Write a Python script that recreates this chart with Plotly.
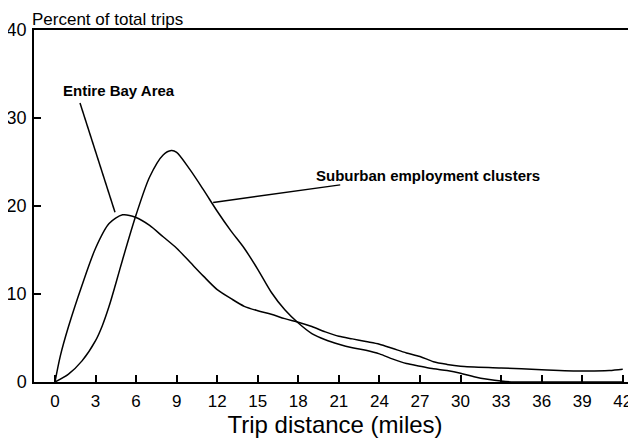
import plotly.graph_objects as go

# Entire Bay Area
bay_x = [0, 0.4, 1, 2, 3, 4, 5, 6, 7, 8, 9, 10, 11, 12, 13, 14, 15, 16, 17, 18, 19, 20, 21, 22, 23, 24, 25, 26, 27, 28, 29, 30, 33, 36, 39, 41, 42]
bay_y = [0, 3, 6.3, 11, 15.2, 18, 19, 18.7, 17.8, 16.5, 15.2, 13.6, 12.0, 10.5, 9.5, 8.6, 8.1, 7.7, 7.2, 6.8, 6.3, 5.7, 5.2, 4.9, 4.6, 4.3, 3.8, 3.3, 2.9, 2.3, 2.0, 1.8, 1.6, 1.4, 1.25, 1.3, 1.45]

# Suburban employment clusters
sub_x = [0, 1, 2, 3, 3.5, 4, 4.5, 5, 6, 7, 8, 8.6, 9, 10, 11, 12, 13, 14, 15, 16, 17, 18, 19, 20, 21, 22, 23, 24, 25, 26, 27, 28, 29, 30, 31, 32, 33, 34, 36, 39, 42]
sub_y = [0, 0.9, 2.4, 4.7, 6.4, 8.6, 11.2, 13.9, 19.0, 23.3, 25.8, 26.3, 26.1, 24.1, 21.8, 19.4, 17.2, 15.2, 12.8, 10.2, 8.2, 6.7, 5.5, 4.8, 4.3, 3.9, 3.6, 3.2, 2.6, 2.1, 1.8, 1.5, 1.3, 1.0, 0.6, 0.3, 0.1, 0, 0, 0, 0]

x_ticks = list(range(0, 43, 3))
y_ticks = [0, 10, 20, 30, 40]

FONT = "Liberation Sans, Arial, sans-serif"

fig = go.Figure()
fig.add_trace(go.Scatter(x=bay_x, y=bay_y, mode="lines", line=dict(color="black", width=1.5, shape="spline", smoothing=0.8), showlegend=False))
fig.add_trace(go.Scatter(x=sub_x, y=sub_y, mode="lines", line=dict(color="black", width=1.5, shape="spline", smoothing=0.8), showlegend=False))

# pointer lines
fig.add_shape(type="line", x0=1.85, y0=31.7, x1=4.44, y1=19.3, line=dict(color="black", width=1.5))
fig.add_shape(type="line", x0=21.1, y0=22.4, x1=11.7, y1=20.4, line=dict(color="black", width=1.5))

fig.add_annotation(x=4.73, y=33.1, text="<b>Entire Bay Area</b>", showarrow=False,
                   font=dict(family=FONT, size=15, color="black"), xanchor="center", yanchor="middle")
fig.add_annotation(x=27.6, y=23.5, text="<b>Suburban employment clusters</b>", showarrow=False,
                   font=dict(family=FONT, size=15, color="black"), xanchor="center", yanchor="middle")

fig.update_xaxes(range=[-1.553, 42.98], tickvals=x_ticks, ticks="inside", ticklen=7, tickwidth=1.5, tickcolor="black",
                 showline=True, linecolor="black", linewidth=2, mirror=True, showgrid=False, zeroline=False,
                 tickfont=dict(family=FONT, size=17, color="black"), ticklabelstandoff=3,
                 title=dict(text="Trip distance (miles)", font=dict(family=FONT, size=24, color="black"), standoff=6))
fig.update_yaxes(range=[0, 40], tickvals=y_ticks, ticks="inside", ticklen=7, tickwidth=1.5, tickcolor="black",
                 showline=True, linecolor="black", linewidth=1.5, showgrid=False, zeroline=False,
                 tickfont=dict(family=FONT, size=18, color="black"), ticklabelstandoff=2)

fig.update_layout(width=628, height=434, margin=dict(l=26, r=0, t=22, b=60, autoexpand=False),
                  plot_bgcolor="white", paper_bgcolor="white",
                  title=dict(text="Percent of total trips", font=dict(family=FONT, size=17, color="black"),
                             xref="container", yref="container", x=24 / 628, xanchor="left",
                             y=1 - 5 / 434, yanchor="top", pad=dict(t=0, b=0, l=0, r=0)))
fig.write_html("out.html")
